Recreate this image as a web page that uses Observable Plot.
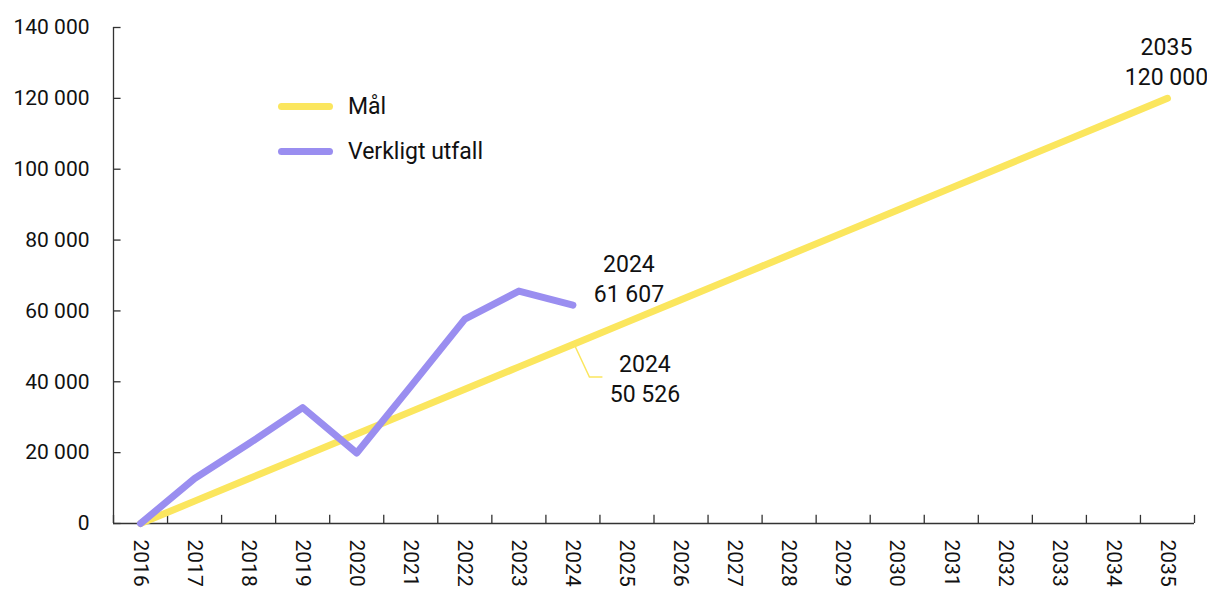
<!DOCTYPE html>
<html>
<head>
<meta charset="utf-8">
<script src="https://cdn.jsdelivr.net/npm/d3@7"></script>
<script src="https://cdn.jsdelivr.net/npm/@observablehq/plot@0.6"></script>
<style>
  html, body { margin: 0; padding: 0; background: #fff; }
  #wrap { position: relative; width: 1207px; height: 589px; font-family: Roboto, "DejaVu Sans", sans-serif; }
  .legend { position: absolute; left: 278px; font-size: 23px; color: #111; display: flex; align-items: center; }
  .legend .sw { width: 55px; height: 7px; border-radius: 4px; margin-right: 15px; }
</style>
</head>
<body>
<div id="wrap"></div>
<script>
const years = [2016, 2017, 2018, 2019, 2020, 2021, 2022, 2023, 2024, 2025, 2026, 2027, 2028, 2029, 2030, 2031, 2032, 2033, 2034, 2035];
const malValues = [0, 6316, 12632, 18947, 25263, 31579, 37895, 44211, 50526, 56842, 63158, 69474, 75789, 82105, 88421, 94737, 101053, 107368, 113684, 120000];
const utfallYears = [2016, 2017, 2018, 2019, 2020, 2021, 2022, 2023, 2024];
const utfallValues = [0, 12700, 22500, 32700, 19900, 38700, 57700, 65600, 61607];
const yTicks = [0, 20000, 40000, 60000, 80000, 100000, 120000, 140000];
const seriesNames = ["Mål", "Verkligt utfall"];
const colors = ["#fbe65e", "#9a8ef0"];

const fmt = d3.formatLocale({thousands: "\u00a0", grouping: [3], decimal: ","}).format(",d");

const mal = years.map((y, i) => ({year: y, value: malValues[i]}));
const utfall = utfallYears.map((y, i) => ({year: y, value: utfallValues[i]}));
const boundaries = years.map(y => y + 0.5).concat([years[0] - 0.5]);

const lastMal = mal[8];
const endMal = mal[mal.length - 1];
const lastUtfall = utfall[utfall.length - 1];

const leader = (index, scales) => {
  const x = scales.x(lastMal.year), y = scales.y(lastMal.value);
  const p = d3.create("svg:path")
    .attr("d", `M${x + 3},${y + 3}L${x + 17},${y + 33}L${x + 30},${y + 33}`)
    .attr("fill", "none").attr("stroke", colors[0]).attr("stroke-width", 1.5);
  return p.node();
};

const chart = Plot.plot({
  width: 1207,
  height: 589,
  marginLeft: 113,
  marginRight: 13,
  marginTop: 27,
  marginBottom: 66,
  style: {fontFamily: "Roboto, 'DejaVu Sans', sans-serif", fontSize: "21px", color: "#111", background: "#fff"},
  x: {domain: [years[0] - 0.5, years[years.length - 1] + 0.5]},
  y: {domain: [0, 140000]},
  marks: [
    Plot.axisY({ticks: yTicks, tickSize: 0, tickPadding: 24, tickFormat: fmt, fontSize: 21, label: null}),
    Plot.ruleY(yTicks, {x1: years[0] - 0.5, x2: years[0] - 0.5 + 0.14, stroke: "#333", strokeWidth: 1.3}),
    Plot.axisX({ticks: years, tickSize: 0, tickPadding: 16, tickRotate: 90, tickFormat: d => String(d), fontSize: 21, label: null}),
    Plot.ruleX(boundaries, {y1: 0, y2: 2300, stroke: "#333", strokeWidth: 1.3}),
    Plot.ruleX([years[0] - 0.5], {y1: 0, y2: 140000, stroke: "#333", strokeWidth: 1.3}),
    Plot.ruleY([0], {x1: years[0] - 0.5, x2: years[years.length - 1] + 0.5, stroke: "#333", strokeWidth: 1.3}),
    Plot.line(mal, {x: "year", y: "value", stroke: colors[0], strokeWidth: 7, strokeLinecap: "round", strokeLinejoin: "round"}),
    Plot.line(utfall, {x: "year", y: "value", stroke: colors[1], strokeWidth: 7, strokeLinecap: "round", strokeLinejoin: "round"}),
    leader,
    Plot.text([lastUtfall], {x: "year", y: "value", text: d => `${d.year}\n${fmt(d.value)}`, dx: 56, dy: -28, lineHeight: 1.3, fontSize: 23, fill: "#111"}),
    Plot.text([lastMal], {x: "year", y: "value", text: d => `${d.year}\n${fmt(d.value)}`, dx: 72, dy: 33, lineHeight: 1.3, fontSize: 23, fill: "#111"}),
    Plot.text([endMal], {x: "year", y: "value", text: d => `${d.year}\n${fmt(d.value)}`, dx: -1, dy: -38, lineHeight: 1.3, fontSize: 23, fill: "#111"})
  ]
});

const wrap = document.getElementById("wrap");
wrap.appendChild(chart);
seriesNames.forEach((name, i) => {
  const row = document.createElement("div");
  row.className = "legend";
  row.style.top = (i === 0 ? 93 : 138) + "px";
  const sw = document.createElement("span");
  sw.className = "sw";
  sw.style.background = colors[i];
  const lbl = document.createElement("span");
  lbl.textContent = name;
  row.appendChild(sw);
  row.appendChild(lbl);
  wrap.appendChild(row);
});
</script>
</body>
</html>
